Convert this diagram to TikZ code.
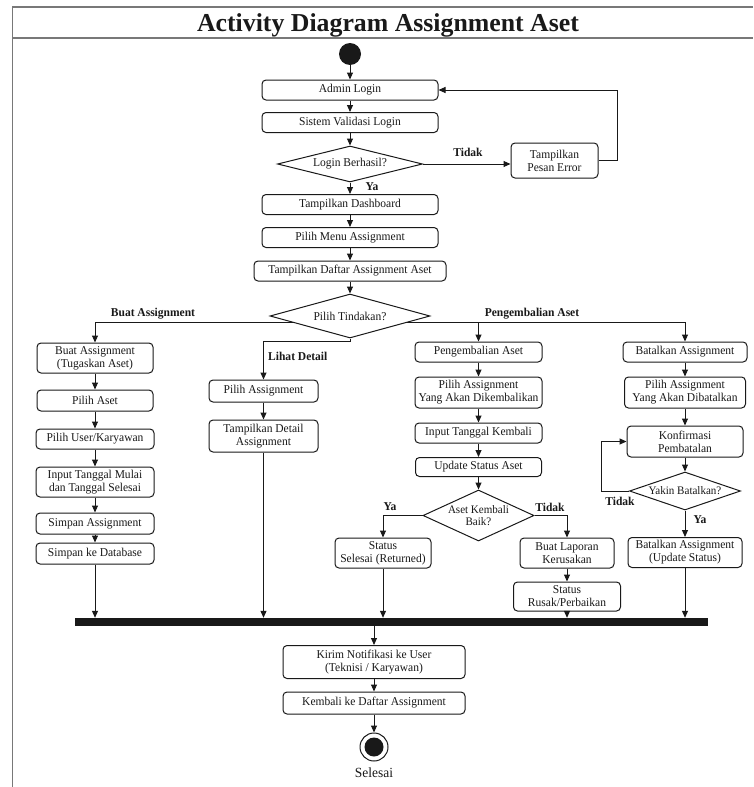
\documentclass[tikz,border=0pt]{standalone}
\usepackage{fontspec}
\setmainfont[FakeStretch=0.96]{Liberation Serif}
\newfontfamily\titlefont{Liberation Serif}
\usetikzlibrary{shapes.geometric,arrows.meta}
\definecolor{framegray}{RGB}{120,120,120}
\definecolor{ink}{RGB}{25,25,25}

\begin{document}
\begin{tikzpicture}[x=1pt,y=-1pt,
  every node/.style={font=\fontsize{12}{13}\selectfont, text=ink},
  act/.style n args={2}{draw=ink, line width=1pt, rounded corners=4pt,
    align=center, inner xsep=1pt, inner ysep=0pt,
    minimum width=#1, minimum height=#2},
  dec/.style n args={3}{draw=ink, line width=1pt, shape=diamond, aspect=#3,
    align=center, inner sep=0pt, minimum width=#1, minimum height=#2},
  lab/.style={font=\fontsize{12}{13}\selectfont\bfseries, inner sep=0pt},
  arr/.style={draw=ink, line width=1pt, -{Triangle[length=7pt,width=6pt]}},
  frame/.style={draw=framegray, line width=1.5pt}
]
% page area
\useasboundingbox (0,0) rectangle (753,787);
\fill[white] (0,0) rectangle (753,787);

% frame and title bar
\draw[frame] (753,7) -- (12.5,7) -- (12.5,787);
\draw[frame] (12.5,38) -- (753,38);
\node[font=\titlefont\fontsize{25.8}{28}\selectfont\bfseries, anchor=base] (title) at (388,31)
  {Activity Diagram Assignment Aset};

% start / login
\node[circle, fill=ink, minimum size=22, inner sep=0pt] (start) at (350,54) {};
\node[act={176}{20}] (admin) at (350,90) {Admin Login};
\node[act={176}{20}] (valid) at (350,122.5) {Sistem Validasi Login};
\node[dec={145}{36}{4}] (login) at (350,164) {Login Berhasil?};
\node[act={87}{35}] (error) at (554.5,160.5) {Tampilkan\\Pesan Error};
\node[act={176}{20}] (dash) at (350,204.5) {Tampilkan Dashboard};
\node[act={176}{20}] (menu) at (350,237.5) {Pilih Menu Assignment};
\node[act={192}{20}] (daftar) at (350,271) {Tampilkan Daftar Assignment Aset};
\node[dec={160}{44}{3.6}] (tindakan) at (350,316) {Pilih Tindakan?};

% buat assignment
\node[act={116}{30}] (buat) at (95,358) {Buat Assignment\\(Tugaskan Aset)};
\node[act={116}{21}] (aset) at (95,400.5) {Pilih Aset};
\node[act={118}{20}] (user) at (95,439) {Pilih User/Karyawan};
\node[act={118}{30}] (tgl) at (95,482) {Input Tanggal Mulai\\dan Tanggal Selesai};
\node[act={118}{21}] (simpan) at (95,523.5) {Simpan Assignment};
\node[act={118}{21}] (db) at (95,553.5) {Simpan ke Database};

% lihat detail
\node[act={109}{22}] (pilihA) at (263.5,391) {Pilih Assignment};
\node[act={109}{32}] (detail) at (263.5,436) {Tampilkan Detail\\Assignment};

% pengembalian aset
\node[act={127}{20}] (kembali) at (478.5,352) {Pengembalian Aset};
\node[act={127}{31}] (pilihK) at (478.5,392.5) {Pilih Assignment\\Yang Akan Dikembalikan};
\node[act={127}{20}] (tglK) at (478.5,433) {Input Tanggal Kembali};
\node[act={126}{19}] (update) at (478.5,467) {Update Status Aset};
\node[dec={111}{51}{2.2}, font=\fontsize{11.5}{12.5}\selectfont] (baik) at (478.5,515.5) {Aset Kembali\\Baik?};
\node[act={96}{30}] (selesai) at (383,553) {Status\\Selesai (Returned)};
\node[act={94}{30}] (laporan) at (567,553) {Buat Laporan\\Kerusakan};
\node[act={107}{29}] (rusak) at (567,596.5) {Status\\Rusak/Perbaikan};

% batalkan assignment
\node[act={124}{20}] (batal) at (685,352) {Batalkan Assignment};
\node[act={121}{31}] (pilihB) at (685,392.5) {Pilih Assignment\\Yang Akan Dibatalkan};
\node[act={116}{31}] (konfirm) at (685,441.5) {Konfirmasi\\Pembatalan};
\node[dec={111}{38}{2.9}, font=\fontsize{11.5}{12.5}\selectfont] (yakin) at (685,491) {Yakin Batalkan?};
\node[act={114}{30}] (batalUpd) at (685,552.5) {Batalkan Assignment\\(Update Status)};

% join bar and ending
\node[fill=ink, minimum width=633, minimum height=8, inner sep=0pt] (bar) at (391.5,622) {};
\node[act={182}{33}] (kirim) at (374,662) {Kirim Notifikasi ke User\\(Teknisi / Karyawan)};
\node[act={182}{22}] (kembaliD) at (374,703) {Kembali ke Daftar Assignment};
\node[circle, draw=ink, line width=1pt, minimum size=28, inner sep=0pt,
  path picture={\fill[ink] (path picture bounding box.center) circle (9.5pt);}] (fin) at (374,747) {};
\node[font=\fontsize{14}{16}\selectfont] (finText) at (374,773) {Selesai};

% login flow
\draw[arr] (start) -- (admin);
\draw[arr] (admin) -- (valid);
\draw[arr] (valid) -- (login);
\draw[arr] (login) -- (dash);
\draw[arr] (login.east) -- (login.east -| error.west);
\coordinate (loopR) at (617,160);
\draw[arr] (error.east) -- (error.east -| loopR) -- (loopR |- admin.east) -- (admin.east);
\draw[arr] (dash) -- (menu);
\draw[arr] (menu) -- (daftar);
\draw[arr] (daftar) -- (tindakan);

% branches
\draw[arr] (tindakan.187) -| (buat.north);
\draw[arr] (tindakan.south) -- ++(0,3) -| (pilihA.north);
\draw[arr] (tindakan.353) -| (batal.north);
\draw[arr] (tindakan.353 -| kembali) -- (kembali.north);

% buat assignment chain
\draw[arr] (buat) -- (aset);
\draw[arr] (aset) -- (user);
\draw[arr] (user) -- (tgl);
\draw[arr] (tgl) -- (simpan);
\draw[arr] (simpan) -- (db);
\draw[arr] (db.south) -- (db.south |- bar.north);

% lihat detail chain
\draw[arr] (pilihA) -- (detail);
\draw[arr] (detail.south) -- (detail.south |- bar.north);

% pengembalian chain
\draw[arr] (kembali) -- (pilihK);
\draw[arr] (pilihK) -- (tglK);
\draw[arr] (tglK) -- (update);
\draw[arr] (update) -- (baik);
\draw[arr] (baik.west) -| (selesai.north);
\draw[arr] (baik.east) -| (laporan.north);
\draw[arr] (laporan) -- (rusak);
\draw[arr] (selesai.south) -- (selesai.south |- bar.north);
\draw[arr] (rusak.south) -- (rusak.south |- bar.north);

% batalkan chain
\draw[arr] (batal) -- (pilihB);
\draw[arr] (pilihB) -- (konfirm);
\draw[arr] (konfirm) -- (yakin);
\draw[arr] (yakin) -- (batalUpd);
\coordinate (loopB) at (601,491);
\draw[arr] (yakin.west) -- (yakin.west -| loopB) -- (loopB |- konfirm.west) -- (konfirm.west);
\draw[arr] (batalUpd.south) -- (batalUpd.south |- bar.north);

% after the join
\draw[arr] (bar.south -| kirim) -- (kirim.north);
\draw[arr] (kirim) -- (kembaliD);
\draw[arr] (kembaliD) -- (fin);

% guard labels
\node[lab] (lTidak1) at (468,152) {Tidak};
\node[lab] (lYa1) at (372,187) {Ya};
\node[lab] (lBuat) at (153,314) {Buat Assignment};
\node[lab, anchor=west] (lLihat) at (268,356) {Lihat Detail};
\node[lab] (lKembali) at (532,314) {Pengembalian Aset};
\node[lab] (lYa2) at (390,507) {Ya};
\node[lab] (lTidak2) at (550,507) {Tidak};
\node[lab] (lTidak3) at (620,501) {Tidak};
\node[lab] (lYa3) at (700,520) {Ya};
\end{tikzpicture}
\end{document}
